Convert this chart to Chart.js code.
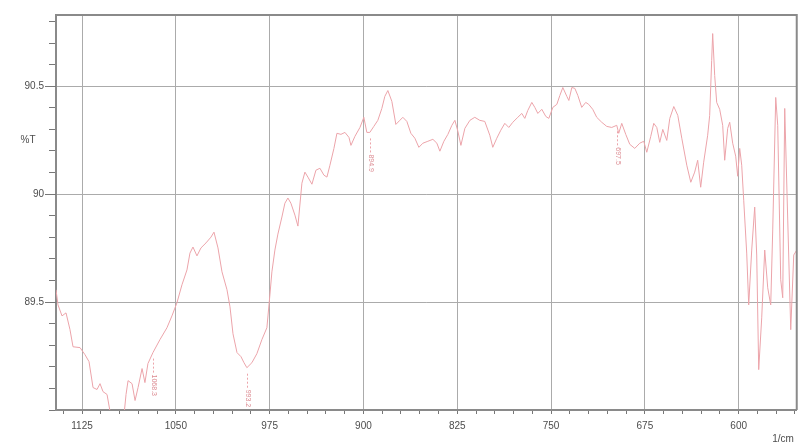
<!DOCTYPE html>
<html>
<head>
<meta charset="utf-8">
<script src="https://cdn.jsdelivr.net/npm/chart.js@4.4.1/dist/chart.umd.min.js"></script>
<style>
  html, body { margin: 0; padding: 0; background: #ffffff; }
  #wrap { width: 801px; height: 445px; }
</style>
</head>
<body>
<div id="wrap"><canvas id="c" width="801" height="445"></canvas></div>
<script>
// IR transmittance spectrum, wavenumber (1/cm) against %T
const wavenumbers = [
  1145.8, 1144.2, 1141.0, 1137.8, 1134.6, 1132.2, 1126.6, 1122.6, 1119.4, 1116.2,
  1113.0, 1110.6, 1108.2, 1105.0, 1102.6, 1097.0, 1092.2, 1089.8, 1088.2, 1085.0,
  1082.6, 1080.2, 1077.0, 1074.7, 1072.3, 1068.3, 1062.7, 1057.1, 1053.1, 1049.1,
  1045.1, 1041.1, 1038.7, 1036.3, 1033.1, 1029.9, 1025.9, 1021.9, 1019.5, 1016.3,
  1013.1, 1009.1, 1006.7, 1004.3, 1001.1, 997.9, 995.5, 993.2, 989.2, 985.2,
  981.2, 977.2, 974.8, 973.2, 970.8, 968.4, 965.2, 962.8, 960.4, 958.0,
  954.8, 952.4, 949.2, 946.8, 944.4, 941.2, 938.0, 934.8, 931.6, 929.2,
  926.8, 923.6, 921.2, 918.0, 914.8, 911.6, 910.0, 906.8, 902.8, 899.7,
  897.3, 894.9, 891.7, 888.5, 885.3, 882.9, 880.5, 877.3, 874.1, 870.9,
  868.5, 865.3, 862.1, 858.9, 855.7, 852.5, 848.5, 844.5, 841.3, 838.9,
  835.7, 832.5, 829.3, 826.9, 824.5, 822.1, 818.9, 814.9, 811.0, 807.0,
  803.0, 799.0, 796.6, 793.4, 790.2, 787.0, 783.8, 780.6, 776.6, 773.4,
  771.0, 768.6, 765.4, 763.0, 760.6, 757.4, 754.2, 751.8, 748.6, 745.4,
  743.0, 740.6, 737.4, 735.8, 733.4, 731.0, 728.6, 725.5, 722.3, 719.9,
  716.7, 713.5, 709.5, 705.5, 701.5, 697.5, 695.9, 693.5, 690.3, 687.1,
  683.1, 679.1, 675.9, 673.5, 670.3, 667.9, 665.5, 663.1, 660.7, 657.5,
  655.1, 651.9, 648.7, 645.5, 641.5, 638.3, 635.2, 632.8, 630.4, 628.0,
  624.8, 623.2, 621.6, 620.8, 619.2, 617.6, 615.2, 612.8, 611.2, 608.8,
  607.2, 604.8, 602.4, 600.8, 599.2, 597.6, 596.0, 593.6, 592.0, 589.6,
  587.2, 585.6, 584.0, 581.6, 579.2, 576.8, 574.4, 572.8, 570.4, 568.8,
  566.4, 564.8, 563.2, 560.8, 558.4, 556.0, 553.6
];

const transmittance = [
  89.557, 89.487, 89.436, 89.450, 89.372, 89.293, 89.289, 89.256, 89.224, 89.104,
  89.095, 89.122, 89.085, 89.072, 88.993, 88.910, 88.933, 89.072, 89.136, 89.122,
  89.044, 89.104, 89.192, 89.127, 89.215, 89.266, 89.326, 89.381, 89.436, 89.497,
  89.580, 89.649, 89.727, 89.755, 89.714, 89.751, 89.774, 89.801, 89.824, 89.751,
  89.640, 89.557, 89.478, 89.353, 89.266, 89.247, 89.219, 89.196, 89.219, 89.261,
  89.326, 89.381, 89.533, 89.640, 89.741, 89.815, 89.894, 89.958, 89.982, 89.958,
  89.903, 89.852, 90.051, 90.102, 90.079, 90.046, 90.111, 90.120, 90.088, 90.079,
  90.134, 90.212, 90.282, 90.277, 90.286, 90.263, 90.226, 90.268, 90.309, 90.356,
  90.286, 90.286, 90.314, 90.342, 90.397, 90.453, 90.480, 90.430, 90.323, 90.342,
  90.356, 90.337, 90.282, 90.259, 90.217, 90.236, 90.245, 90.254, 90.236, 90.199,
  90.245, 90.277, 90.319, 90.342, 90.291, 90.226, 90.305, 90.342, 90.356, 90.342,
  90.337, 90.273, 90.217, 90.259, 90.296, 90.328, 90.309, 90.333, 90.356, 90.374,
  90.351, 90.388, 90.425, 90.402, 90.374, 90.393, 90.360, 90.351, 90.402, 90.416,
  90.457, 90.494, 90.453, 90.434, 90.494, 90.490, 90.457, 90.402, 90.425, 90.416,
  90.393, 90.356, 90.333, 90.314, 90.309, 90.319, 90.282, 90.328, 90.277, 90.231,
  90.212, 90.236, 90.245, 90.194, 90.268, 90.328, 90.309, 90.240, 90.300, 90.249,
  90.351, 90.406, 90.365, 90.259, 90.134, 90.055, 90.102, 90.157, 90.032, 90.148,
  90.273, 90.365, 90.619, 90.744, 90.550, 90.425, 90.393, 90.319, 90.157, 90.305,
  90.333, 90.236, 90.176, 90.083, 90.212, 90.134, 89.972, 89.727, 89.487, 89.741,
  89.940, 89.718, 89.187, 89.427, 89.741, 89.566, 89.487, 89.834, 90.448, 90.319,
  89.603, 89.520, 90.397, 89.880, 89.372, 89.718, 89.741
];

// picked peaks and their labels
const peakPositions = [1068.3, 993.2, 894.9, 697.5];
const peakLabels = ['1068.3', '993.2', '894.9', '697.5'];

// labelled axis ticks
const xMajorTicks = [1125, 1050, 975, 900, 825, 750, 675, 600];
const yMajorTicks = [89.5, 90, 90.5];

const xMin = 553.6, xMax = 1145.8;
const yMin = 89.0, yMax = 90.83;

const points = wavenumbers.map((w, i) => ({ x: w, y: transmittance[i] }));

const TRACE = '#eca4aa';
const GRID = '#ababab';
const FRAME = '#8a8a8a';
const TEXT = '#4d4d4d';
const FONT = 'Liberation Sans, Arial, sans-serif';

function valueAt(w) {
  for (let i = 0; i < wavenumbers.length - 1; i++) {
    const a = wavenumbers[i], b = wavenumbers[i + 1];
    if (w <= a && w >= b) {
      const t = (a - w) / (a - b);
      return transmittance[i] + t * (transmittance[i + 1] - transmittance[i]);
    }
  }
  return transmittance[0];
}

const decorations = {
  id: 'decorations',
  afterDraw(chart) {
    const { ctx, chartArea: a, scales } = chart;
    ctx.save();
    // frame on the top and right
    ctx.strokeStyle = FRAME;
    ctx.lineWidth = 2;
    ctx.beginPath();
    ctx.moveTo(a.left, a.top);
    ctx.lineTo(a.right, a.top);
    ctx.lineTo(a.right, a.bottom);
    ctx.stroke();

    // longer ticks at the labelled %T values
    ctx.strokeStyle = '#777777';
    ctx.lineWidth = 1;
    yMajorTicks.forEach((v) => {
      const y = Math.round(scales.y.getPixelForValue(v)) + 0.5;
      ctx.beginPath();
      ctx.moveTo(a.left - 11, y);
      ctx.lineTo(a.left, y);
      ctx.stroke();
    });

    // axis captions
    ctx.fillStyle = TEXT;
    ctx.font = '10px ' + FONT;
    ctx.textAlign = 'center';
    ctx.textBaseline = 'middle';
    ctx.fillText('%T', 28, 140);
    ctx.fillText('1/cm', 783, 439);

    // peak markers below the trace
    ctx.beginPath();
    ctx.rect(a.left, a.top, a.right - a.left, a.bottom - a.top);
    ctx.clip();
    peakPositions.forEach((w, i) => {
      const px = Math.round(scales.x.getPixelForValue(w)) + 0.5;
      const py = scales.y.getPixelForValue(valueAt(w));
      ctx.strokeStyle = TRACE;
      ctx.lineWidth = 1;
      ctx.setLineDash([2, 2]);
      ctx.beginPath();
      ctx.moveTo(px, py + 6);
      ctx.lineTo(px, py + 20);
      ctx.stroke();
      ctx.setLineDash([]);
      ctx.save();
      ctx.translate(px, py + 22);
      ctx.rotate(Math.PI / 2);
      ctx.fillStyle = '#dc8a91';
      ctx.font = '7px ' + FONT;
      ctx.textAlign = 'left';
      ctx.textBaseline = 'middle';
      ctx.fillText(peakLabels[i], 0, 0);
      ctx.restore();
    });
    ctx.restore();
  }
};

new Chart(document.getElementById('c'), {
  type: 'line',
  data: {
    datasets: [{
      data: points,
      borderColor: TRACE,
      borderWidth: 1,
      pointRadius: 0,
      tension: 0,
      fill: false
    }]
  },
  options: {
    responsive: false,
    animation: false,
    devicePixelRatio: 1,
    parsing: false,
    layout: { padding: { top: 15, right: 4, left: 0, bottom: 0 } },
    plugins: { legend: { display: false }, tooltip: { enabled: false } },
    scales: {
      x: {
        type: 'linear',
        reverse: true,
        min: xMin,
        max: xMax,
        afterBuildTicks(scale) {
          const t = [];
          for (let v = 1140; v >= 555; v -= 15) t.push({ value: v });
          scale.ticks = t;
        },
        afterFit(scale) { scale.height = 35; },
        border: { display: true, color: FRAME, width: 2 },
        grid: {
          drawOnChartArea: true,
          drawTicks: true,
          tickLength: 4,
          tickColor: '#777777',
          color: (c) => (c.tick && xMajorTicks.includes(c.tick.value)) ? GRID : 'rgba(0,0,0,0)',
          lineWidth: 1
        },
        ticks: {
          autoSkip: false,
          maxRotation: 0,
          padding: 6,
          color: TEXT,
          font: { family: FONT, size: 10 },
          callback: (v) => xMajorTicks.includes(v) ? String(v) : ''
        }
      },
      y: {
        type: 'linear',
        min: yMin,
        max: yMax,
        afterBuildTicks(scale) {
          const t = [];
          for (let i = 890; i <= 908; i++) t.push({ value: i / 10 });
          scale.ticks = t;
        },
        afterFit(scale) { scale.width = 56; },
        border: { display: true, color: FRAME, width: 2 },
        grid: {
          drawOnChartArea: true,
          drawTicks: true,
          tickLength: 7,
          tickColor: '#777777',
          color: (c) => (c.tick && yMajorTicks.includes(c.tick.value)) ? GRID : 'rgba(0,0,0,0)',
          lineWidth: 1
        },
        ticks: {
          autoSkip: false,
          padding: 5,
          color: TEXT,
          font: { family: FONT, size: 10 },
          callback: (v) => yMajorTicks.includes(v) ? (v === 90 ? '90' : v.toFixed(1)) : ''
        }
      }
    }
  },
  plugins: [decorations]
});
</script>
</body>
</html>
